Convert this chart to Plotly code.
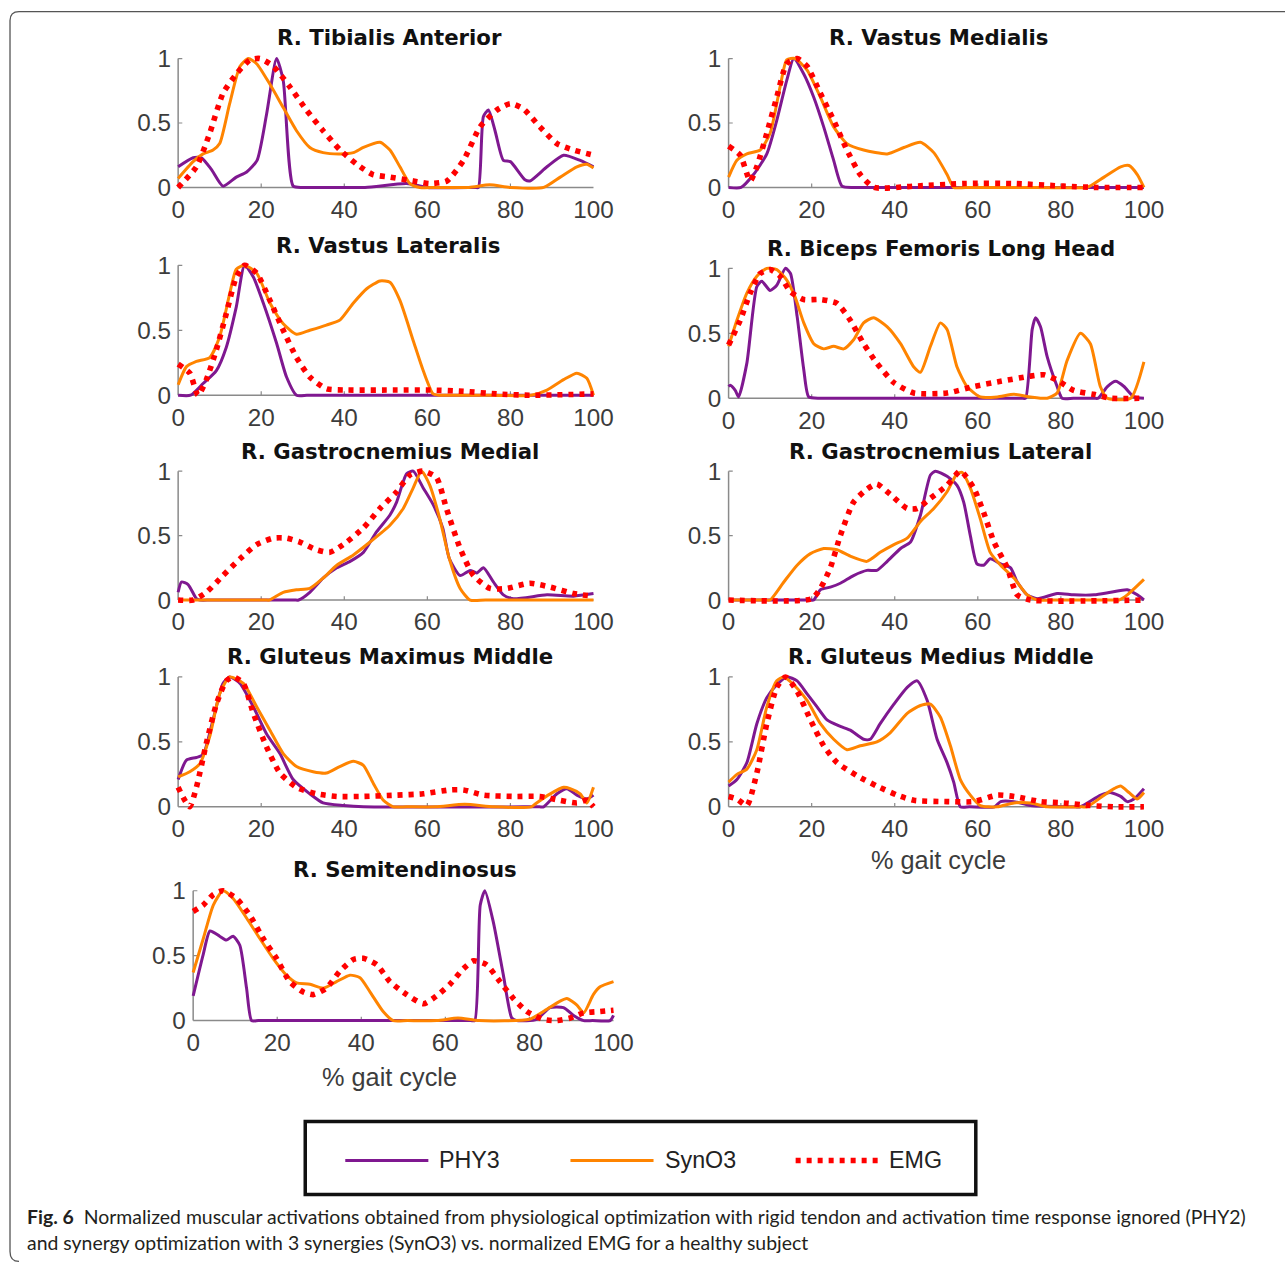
import plotly.graph_objects as go

# ---------------- DATA ----------------
TA_PHY3_X = [0, 3.6, 5.6, 8, 10.8, 14, 16.5, 19, 21.3, 23.7, 25.3, 27.7, 30, 33, 45, 55, 60, 71.5, 72.3, 73.5, 74.7, 76.3, 78.3, 80, 83.5, 84.7, 88.8, 92.8, 96.8, 100]
TA_PHY3_Y = [0.16, 0.23, 0.23, 0.14, 0.01, 0.08, 0.12, 0.21, 0.57, 1.0, 0.83, 0.01, 0, 0, 0, 0.03, 0, 0, 0, 0.55, 0.6, 0.44, 0.21, 0.2, 0.06, 0.05, 0.16, 0.25, 0.21, 0.16]
TA_SYN_X = [0, 3.6, 6, 8.4, 10, 12.4, 14.9, 16.9, 18.9, 22.1, 25.3, 28.5, 31.7, 34.9, 39, 42.2, 44.6, 48.6, 51, 53.4, 55.8, 58.2, 62, 70, 75, 80, 88, 92, 96, 98.4, 100]
TA_SYN_Y = [0.07, 0.2, 0.26, 0.29, 0.34, 0.65, 0.94, 1.0, 0.96, 0.8, 0.62, 0.44, 0.31, 0.27, 0.26, 0.27, 0.31, 0.35, 0.29, 0.16, 0.03, 0, 0, 0, 0.02, 0, 0, 0.08, 0.16, 0.18, 0.15]
TA_EMG_X = [0, 4.4, 7.6, 10.8, 14, 17.3, 19.7, 22.9, 26.9, 30.9, 34.9, 39, 43, 46.9, 51, 56.6, 60.6, 64.7, 68.7, 72.7, 76.7, 80, 83.1, 87.1, 91.2, 95.2, 100]
TA_EMG_Y = [0, 0.16, 0.42, 0.73, 0.88, 0.99, 1.0, 0.94, 0.78, 0.6, 0.44, 0.29, 0.18, 0.1, 0.08, 0.05, 0.03, 0.05, 0.21, 0.47, 0.6, 0.65, 0.61, 0.47, 0.34, 0.29, 0.25]

VM_PHY3_X = [0, 3, 6, 9.2, 11.6, 14, 15.7, 18.1, 20.5, 22.9, 25.3, 27.3, 30, 33, 100]
VM_PHY3_Y = [0, 0, 0.1, 0.26, 0.52, 0.83, 1.0, 0.88, 0.7, 0.47, 0.21, 0.01, 0, 0, 0]
VM_SYN_X = [0, 2, 4.4, 7.6, 10, 12.4, 14, 16, 18.9, 22.1, 25.3, 28.5, 32.5, 38.2, 42.2, 46.2, 49.4, 52.6, 54.2, 57, 70, 86, 87, 90.4, 94.4, 96.4, 98.4, 100]
VM_SYN_Y = [0.08, 0.21, 0.26, 0.29, 0.42, 0.78, 0.99, 1.0, 0.91, 0.7, 0.47, 0.34, 0.29, 0.26, 0.31, 0.35, 0.27, 0.1, 0, 0, 0, 0, 0.01, 0.08, 0.16, 0.17, 0.1, 0]
VM_EMG_X = [0, 2.8, 5.2, 6.8, 9.2, 11.6, 14, 16.5, 18.9, 22.1, 25.3, 28.5, 31.7, 35, 44.6, 56.6, 68.7, 80.7, 88.8, 100]
VM_EMG_Y = [0.32, 0.25, 0.05, 0.16, 0.42, 0.7, 0.96, 1.0, 0.94, 0.73, 0.52, 0.29, 0.1, 0, 0.01, 0.03, 0.03, 0.01, 0, 0]

VL_PHY3_X = [0, 3, 6, 9.2, 11.6, 14, 16, 18.1, 20.5, 23.7, 26.1, 28.5, 31, 34, 100]
VL_PHY3_Y = [0, 0, 0.09, 0.19, 0.37, 0.68, 1.0, 0.91, 0.71, 0.4, 0.14, 0, 0, 0, 0]
VL_SYN_X = [0, 2, 4.4, 7.6, 10, 12.4, 14, 16, 18.9, 22.1, 25.3, 28.5, 31.7, 35.7, 39, 42.2, 45.4, 48.6, 51, 53.4, 56.6, 59, 61.4, 63, 66, 75, 85, 88.8, 92.8, 96, 98.4, 100]
VL_SYN_Y = [0.08, 0.22, 0.26, 0.29, 0.45, 0.78, 0.97, 1.0, 0.94, 0.71, 0.55, 0.47, 0.5, 0.54, 0.58, 0.71, 0.82, 0.88, 0.87, 0.73, 0.42, 0.19, 0.01, 0, 0, 0, 0, 0.04, 0.12, 0.17, 0.13, 0]
VL_EMG_X = [0, 2.8, 4.8, 6.8, 9.2, 11.6, 14, 16, 18.9, 22.1, 25.3, 28.5, 31.7, 35.7, 40.6, 52.6, 60.6, 68.7, 76.7, 84.7, 100]
VL_EMG_Y = [0.24, 0.17, 0, 0.12, 0.35, 0.63, 0.91, 1.0, 0.94, 0.73, 0.5, 0.29, 0.14, 0.05, 0.04, 0.04, 0.04, 0.03, 0.01, 0, 0.01]

BF_PHY3_X = [0, 0.4, 1.6, 2.4, 4.4, 6.8, 8, 10, 11.6, 13.7, 14.9, 16.5, 18.1, 19.3, 22, 25, 70.5, 71.5, 73.1, 73.9, 75.1, 76.7, 79.1, 80.3, 83, 88, 89, 91.2, 93.2, 95.2, 97.6, 100]
BF_PHY3_Y = [0.09, 0.1, 0.06, 0.01, 0.27, 0.86, 0.9, 0.83, 0.87, 1.0, 0.96, 0.63, 0.22, 0.01, 0, 0, 0, 0, 0.53, 0.62, 0.55, 0.32, 0.09, 0, 0, 0, 0, 0.09, 0.13, 0.09, 0.01, 0]
BF_SYN_X = [0, 2, 4.4, 6.8, 9.2, 11.6, 14, 16, 18.1, 20.5, 22.9, 25.3, 27.7, 30.1, 32.5, 34.9, 38.2, 41.4, 44.6, 46.2, 48.6, 51, 52.6, 55, 57.4, 60.6, 64.7, 68.7, 72.7, 76.7, 79.1, 81.5, 84.7, 87.1, 89.5, 91.2, 96.8, 100]
BF_SYN_Y = [0.4, 0.6, 0.81, 0.94, 1.0, 0.99, 0.91, 0.78, 0.58, 0.42, 0.38, 0.4, 0.38, 0.45, 0.58, 0.62, 0.55, 0.42, 0.24, 0.2, 0.4, 0.58, 0.53, 0.24, 0.09, 0.01, 0.01, 0.03, 0.01, 0, 0.04, 0.29, 0.5, 0.42, 0.09, 0, 0, 0.28]
BF_EMG_X = [0, 2.8, 5.2, 7.6, 10, 12.4, 14.9, 18.1, 22.1, 26.1, 29.3, 32.5, 35.7, 39.8, 44.6, 52.6, 59, 65.5, 72.7, 75.9, 79.1, 83.1, 87.9, 92, 100]
BF_EMG_Y = [0.41, 0.6, 0.81, 0.96, 0.99, 0.94, 0.82, 0.76, 0.76, 0.73, 0.6, 0.42, 0.27, 0.12, 0.04, 0.04, 0.09, 0.13, 0.17, 0.18, 0.14, 0.06, 0.03, 0, 0]

GM_PHY3_X = [0, 0.8, 2.4, 4.4, 5.2, 8, 28, 29, 31.7, 34.9, 38.2, 41.4, 44.6, 47.8, 51, 52.6, 55, 56.6, 59, 61.4, 63.7, 65.3, 67.9, 70.3, 71.9, 73.5, 75.9, 78.3, 80.7, 88.8, 95.2, 100]
GM_PHY3_Y = [0.06, 0.14, 0.12, 0.01, 0, 0, 0, 0, 0.06, 0.17, 0.25, 0.3, 0.37, 0.53, 0.66, 0.76, 0.98, 1.0, 0.87, 0.74, 0.56, 0.32, 0.19, 0.23, 0.21, 0.25, 0.14, 0.04, 0.01, 0.04, 0.03, 0.05]
GM_SYN_X = [0, 21, 22, 25.3, 28.5, 31.7, 34.9, 38.2, 42.2, 46.2, 51, 54.2, 56.6, 58.6, 60.6, 63, 65.3, 67.9, 70.3, 74, 100]
GM_SYN_Y = [0, 0, 0, 0.06, 0.08, 0.09, 0.17, 0.27, 0.35, 0.45, 0.58, 0.71, 0.87, 1.0, 0.89, 0.63, 0.32, 0.09, 0, 0, 0]
GM_EMG_X = [0, 3.6, 6.8, 10.8, 14.9, 18.9, 22.9, 26.1, 29.3, 33.3, 36.5, 40.6, 44.6, 48.6, 52.6, 55.8, 59, 62.2, 64.6, 67.9, 71.1, 75.1, 79.1, 84.7, 89.6, 95.2, 100]
GM_EMG_Y = [0, 0, 0.06, 0.19, 0.32, 0.43, 0.48, 0.48, 0.45, 0.39, 0.37, 0.45, 0.56, 0.71, 0.84, 0.97, 1.0, 0.95, 0.71, 0.4, 0.19, 0.09, 0.09, 0.13, 0.1, 0.05, 0.03]

GL_PHY3_X = [0, 19.5, 20.5, 22.1, 24.5, 26.9, 30.1, 33.3, 35.7, 38.2, 41.4, 43.8, 46.2, 48.6, 49.8, 52.6, 55, 56.6, 58.2, 59.8, 61.4, 63, 65.5, 67.9, 69.5, 71.9, 74.3, 79.1, 83.1, 88, 92, 96, 98.4, 100]
GL_PHY3_Y = [0, 0, 0, 0.08, 0.1, 0.13, 0.19, 0.23, 0.23, 0.3, 0.4, 0.45, 0.66, 0.97, 1.0, 0.96, 0.89, 0.76, 0.5, 0.28, 0.27, 0.32, 0.28, 0.25, 0.14, 0.04, 0.01, 0.05, 0.04, 0.04, 0.06, 0.08, 0.04, 0]
GL_SYN_X = [0, 9, 10, 13.3, 16.5, 19.7, 22.9, 26.1, 29.3, 33.3, 36.5, 39.8, 43, 46.2, 49.4, 52.6, 55, 56.2, 58.2, 60.6, 63, 65.5, 68.7, 71.9, 74.3, 78, 93, 94, 96, 100]
GL_SYN_Y = [0, 0, 0, 0.14, 0.27, 0.36, 0.4, 0.39, 0.34, 0.3, 0.37, 0.43, 0.48, 0.61, 0.71, 0.84, 0.98, 0.99, 0.87, 0.63, 0.37, 0.27, 0.17, 0.04, 0, 0, 0, 0, 0.04, 0.16]
GL_EMG_X = [0, 20, 22.1, 24.5, 26.9, 30.1, 33.3, 35.7, 38.9, 43, 45.4, 48.6, 52.6, 55.8, 59, 61.4, 63.9, 67.1, 69.5, 72.7, 100]
GL_EMG_Y = [0, 0.01, 0.09, 0.25, 0.5, 0.76, 0.86, 0.9, 0.82, 0.71, 0.71, 0.79, 0.89, 1.0, 0.87, 0.68, 0.45, 0.25, 0.04, 0, 0]

GMAX_PHY3_X = [0, 2, 4.4, 6, 8.4, 10.8, 12.4, 14.9, 18.1, 21.3, 24.5, 27.7, 31.7, 34.9, 39.8, 44.6, 87, 88, 91.2, 93.6, 96, 98.4, 100]
GMAX_PHY3_Y = [0.21, 0.36, 0.38, 0.4, 0.67, 0.95, 1.0, 0.95, 0.77, 0.56, 0.41, 0.21, 0.1, 0.03, 0.01, 0, 0, 0, 0.1, 0.14, 0.09, 0.06, 0.09]
GMAX_SYN_X = [0, 2.8, 5.2, 7.6, 10, 12.4, 15.7, 18.9, 22.1, 25.3, 28.5, 32.5, 35.7, 38.9, 42.2, 44.6, 47, 49.4, 51.8, 55, 62, 69, 76, 85, 86.3, 89.6, 92.8, 94.4, 96.8, 98.4, 100]
GMAX_SYN_Y = [0.23, 0.27, 0.33, 0.54, 0.87, 1.0, 0.95, 0.77, 0.59, 0.41, 0.31, 0.27, 0.26, 0.31, 0.35, 0.32, 0.18, 0.05, 0, 0, 0, 0.02, 0, 0, 0.03, 0.1, 0.15, 0.14, 0.1, 0.03, 0.15]
GMAX_EMG_X = [0, 1.6, 2.8, 4.4, 6.8, 9.2, 11.6, 13.3, 15.7, 18.1, 21.3, 24.5, 28.5, 33.3, 38.2, 44.6, 52.6, 59, 65.5, 68.7, 73.5, 80.7, 87.1, 91.9, 96, 98.4, 100]
GMAX_EMG_Y = [0.15, 0.05, 0, 0.15, 0.49, 0.79, 0.97, 1.0, 0.95, 0.72, 0.46, 0.26, 0.15, 0.1, 0.08, 0.08, 0.09, 0.1, 0.13, 0.13, 0.09, 0.08, 0.08, 0.05, 0.03, 0.05, 0]

GMED_PHY3_X = [0, 2, 4.4, 6.8, 9.2, 11.6, 14, 16.5, 18.9, 21.3, 23.7, 26.9, 29.3, 32.5, 34.1, 36.5, 39.8, 43, 45.4, 47.8, 50.2, 52.6, 54.2, 55.8, 58, 64, 65.5, 68.7, 72.7, 83.5, 84.7, 89.6, 91.9, 94.4, 96, 97.6, 100]
GMED_PHY3_Y = [0.16, 0.21, 0.34, 0.64, 0.84, 0.94, 1.0, 0.97, 0.87, 0.77, 0.67, 0.62, 0.59, 0.52, 0.52, 0.64, 0.79, 0.92, 0.97, 0.82, 0.52, 0.34, 0.19, 0, 0, 0, 0.04, 0.04, 0.01, 0, 0, 0.09, 0.11, 0.08, 0.04, 0.06, 0.14]
GMED_SYN_X = [0, 2, 4.4, 6.8, 9.2, 11.6, 13.3, 15.7, 18.9, 22.1, 25.3, 28.5, 31.7, 35.7, 38.9, 43, 46.2, 48.6, 51, 53.4, 55.8, 58.2, 60.6, 64.7, 68.7, 72.7, 76.7, 85, 86.3, 90.4, 92.8, 94.4, 96.4, 98.4, 100]
GMED_SYN_Y = [0.19, 0.25, 0.29, 0.44, 0.77, 0.97, 1.0, 0.94, 0.82, 0.64, 0.52, 0.44, 0.47, 0.5, 0.57, 0.72, 0.78, 0.79, 0.69, 0.47, 0.21, 0.09, 0.01, 0, 0.03, 0.03, 0, 0, 0, 0.09, 0.14, 0.16, 0.11, 0.06, 0.11]
GMED_EMG_X = [0, 2, 4.4, 6.8, 9.2, 11.6, 13.7, 16.5, 19.7, 22.9, 26.1, 30.9, 35.7, 40.6, 44.6, 52.6, 59, 64.7, 68.7, 75.1, 80.7, 87.1, 92.8, 100]
GMED_EMG_Y = [0.08, 0.06, 0.01, 0.26, 0.64, 0.92, 1.0, 0.89, 0.67, 0.47, 0.34, 0.24, 0.16, 0.09, 0.05, 0.04, 0.04, 0.09, 0.08, 0.04, 0.03, 0.01, 0, 0]

ST_PHY3_X = [0, 2.4, 4, 6.3, 7.9, 9.5, 11.1, 12.7, 13.9, 15.5, 20, 66, 67, 68.3, 69.4, 71.4, 73.8, 75.8, 77, 81.7, 84.9, 88.1, 90.5, 92.9, 95, 99.2, 100]
ST_PHY3_Y = [0.19, 0.51, 0.69, 0.65, 0.62, 0.65, 0.58, 0.25, 0, 0, 0, 0, 0, 0.89, 1.0, 0.76, 0.35, 0.02, 0, 0.01, 0.1, 0.1, 0.04, 0, 0, 0, 0.04]
ST_SYN_X = [0, 2.4, 4.8, 7.1, 9.5, 12.7, 15.9, 19, 22.2, 24.6, 27.8, 31, 34.1, 37.3, 39.7, 42.1, 45.2, 47.6, 51, 58, 63, 68, 80, 83.3, 87.3, 88.9, 91.3, 92.9, 95.2, 96.8, 100]
ST_SYN_Y = [0.37, 0.63, 0.89, 1.0, 0.94, 0.79, 0.63, 0.48, 0.35, 0.29, 0.28, 0.25, 0.3, 0.35, 0.33, 0.22, 0.07, 0, 0, 0, 0.02, 0, 0.01, 0.07, 0.15, 0.17, 0.12, 0.06, 0.2, 0.26, 0.3]
ST_EMG_X = [0, 2.4, 4.8, 7.1, 10.3, 13.5, 16.7, 19.8, 23, 26.2, 28.6, 31.7, 34.9, 38.1, 40.5, 43.7, 46.8, 50.8, 54.8, 57.9, 61.1, 64.3, 66.7, 69.8, 73, 76.2, 79.4, 83.3, 86.5, 89.7, 92.9, 96.8, 100]
ST_EMG_Y = [0.84, 0.89, 0.97, 1.0, 0.94, 0.81, 0.63, 0.48, 0.3, 0.22, 0.2, 0.25, 0.38, 0.47, 0.48, 0.43, 0.3, 0.2, 0.13, 0.19, 0.28, 0.4, 0.46, 0.43, 0.3, 0.17, 0.07, 0.01, 0, 0.02, 0.06, 0.07, 0.08]

TITLES = ["R. Tibialis Anterior", "R. Vastus Medialis", "R. Vastus Lateralis",
          "R. Biceps Femoris Long Head", "R. Gastrocnemius Medial", "R. Gastrocnemius Lateral",
          "R. Gluteus Maximus Middle", "R. Gluteus Medius Middle", "R. Semitendinosus"]
SERIES_NAMES = ["PHY3", "SynO3", "EMG"]
X_TICKS = [0, 20, 40, 60, 80, 100]
Y_TICKS = [0, 0.5, 1]
Y_TICK_TEXT = ["0", "0.5", "1"]
X_LABEL = "% gait cycle"
CAPTION_1 = "<b>Fig. 6</b>  Normalized muscular activations obtained from physiological optimization with rigid tendon and activation time response ignored (PHY2)"
CAPTION_2 = "and synergy optimization with 3 synergies (SynO3) vs. normalized EMG for a healthy subject"

PANELS_DATA = [
    (TA_PHY3_X, TA_PHY3_Y, TA_SYN_X, TA_SYN_Y, TA_EMG_X, TA_EMG_Y),
    (VM_PHY3_X, VM_PHY3_Y, VM_SYN_X, VM_SYN_Y, VM_EMG_X, VM_EMG_Y),
    (VL_PHY3_X, VL_PHY3_Y, VL_SYN_X, VL_SYN_Y, VL_EMG_X, VL_EMG_Y),
    (BF_PHY3_X, BF_PHY3_Y, BF_SYN_X, BF_SYN_Y, BF_EMG_X, BF_EMG_Y),
    (GM_PHY3_X, GM_PHY3_Y, GM_SYN_X, GM_SYN_Y, GM_EMG_X, GM_EMG_Y),
    (GL_PHY3_X, GL_PHY3_Y, GL_SYN_X, GL_SYN_Y, GL_EMG_X, GL_EMG_Y),
    (GMAX_PHY3_X, GMAX_PHY3_Y, GMAX_SYN_X, GMAX_SYN_Y, GMAX_EMG_X, GMAX_EMG_Y),
    (GMED_PHY3_X, GMED_PHY3_Y, GMED_SYN_X, GMED_SYN_Y, GMED_EMG_X, GMED_EMG_Y),
    (ST_PHY3_X, ST_PHY3_Y, ST_SYN_X, ST_SYN_Y, ST_EMG_X, ST_EMG_Y),
]

# ---------------- LAYOUT (pixel geometry in the target picture) ----------------
W, H = 1285, 1263
# the viewer fits the page into a slightly smaller box; compensate for it
S, AX, AY = 0.9883, 0.0, 7.4
# (px of x=0, px of x=100, px of y=1, px of y=0)
GEOM = [
    (178, 593, 58, 187), (728, 1143, 58, 187),
    (178, 593, 265, 395), (728, 1143, 268, 398),
    (178, 593, 471, 600), (728, 1143, 471, 600),
    (178, 593, 677, 807), (728, 1143, 677, 807),
    (193, 613, 891, 1021),
]
TITLE_POS = [(389, 37), (938, 37), (388, 245), (940, 248), (390, 451), (940, 451),
             (390, 657), (940, 657), (405, 870)]
XLABEL_POS = [(938, 860), (389, 1077)]

PURPLE = "#7F1890"
ORANGE = "#FF8400"
RED = "#FF0000"
AXIS_GRAY = "#8a8a8a"
TICK_COLOR = "#3c3c3c"
XPAD, YPAD = 1.5, 0.04


def fs(v):
    return round(v / S, 2)


TICK_FONT = dict(family="Liberation Sans, Arial", size=fs(24), color=TICK_COLOR)


def fx(px):
    return ((px - AX) / S) / W


def fy(py):
    return 1 - ((py - AY) / S) / H


fig = go.Figure()
shapes = []
annotations = []

for i, (g, data) in enumerate(zip(GEOM, PANELS_DATA)):
    x0, x1, yt, yb = g
    sx = (x1 - x0) / 100.0
    sy = (yb - yt) / 1.0
    dom_x = [fx(x0 - XPAD * sx), fx(x1 + XPAD * sx)]
    dom_y = [fy(yb + YPAD * sy), fy(yt - YPAD * sy)]
    n = "" if i == 0 else str(i + 1)
    xa, ya = "x" + n, "y" + n
    fig.layout["xaxis" + n] = dict(
        domain=dom_x, range=[-XPAD, 100 + XPAD], anchor=ya,
        tickvals=X_TICKS, showgrid=False, zeroline=False, showline=False, ticks="",
        tickfont=TICK_FONT, fixedrange=True)
    fig.layout["yaxis" + n] = dict(
        domain=dom_y, range=[-YPAD, 1 + YPAD], anchor=xa,
        tickvals=Y_TICKS, ticktext=Y_TICK_TEXT, showgrid=False, zeroline=False,
        showline=False, ticks="", tickfont=TICK_FONT, fixedrange=True)
    # axis lines at the data origin, with small inward tick marks
    shapes.append(dict(type="line", xref=xa, yref=ya, x0=0, x1=100, y0=0, y1=0,
                       line=dict(color=AXIS_GRAY, width=1.5), layer="below"))
    shapes.append(dict(type="line", xref=xa, yref=ya, x0=0, x1=0, y0=0, y1=1,
                       line=dict(color=AXIS_GRAY, width=1.5), layer="below"))
    for tv in X_TICKS[1:-1]:
        shapes.append(dict(type="line", xref=xa, yref=ya, x0=tv, x1=tv, y0=0, y1=0.03,
                           line=dict(color=AXIS_GRAY, width=1.2), layer="below"))
    for tv in Y_TICKS[1:]:
        shapes.append(dict(type="line", xref=xa, yref=ya, x0=0, x1=1, y0=tv, y1=tv,
                           line=dict(color=AXIS_GRAY, width=1.2), layer="below"))
    px_, py_, sx_, sy_, ex_, ey_ = data
    fig.add_trace(go.Scatter(x=px_, y=py_, mode="lines", name=SERIES_NAMES[0],
                             line=dict(color=PURPLE, width=3, shape="spline", smoothing=0.6),
                             xaxis=xa, yaxis=ya, showlegend=False, hoverinfo="skip"))
    fig.add_trace(go.Scatter(x=sx_, y=sy_, mode="lines", name=SERIES_NAMES[1],
                             line=dict(color=ORANGE, width=3, shape="spline", smoothing=0.6),
                             xaxis=xa, yaxis=ya, showlegend=False, hoverinfo="skip"))
    fig.add_trace(go.Scatter(x=ex_, y=ey_, mode="lines", name=SERIES_NAMES[2],
                             line=dict(color=RED, width=5.6, dash="5px,6px", shape="spline", smoothing=0.6),
                             xaxis=xa, yaxis=ya, showlegend=False, hoverinfo="skip"))
    tx, ty = TITLE_POS[i]
    annotations.append(dict(text="<b>" + TITLES[i] + "</b>", x=fx(tx), y=fy(ty), xref="paper", yref="paper",
                            xanchor="center", yanchor="middle", showarrow=False,
                            font=dict(family="DejaVu Sans", size=fs(21), color="#111111")))

for (lx, ly) in XLABEL_POS:
    annotations.append(dict(text=X_LABEL, x=fx(lx), y=fy(ly), xref="paper", yref="paper",
                            xanchor="center", yanchor="middle", showarrow=False,
                            font=dict(family="Liberation Sans, Arial", size=fs(25), color=TICK_COLOR)))

# legend box
shapes.append(dict(type="rect", xref="paper", yref="paper", x0=fx(305), x1=fx(975), y0=fy(1195), y1=fy(1122),
                   line=dict(color="#111111", width=3.5), fillcolor="white"))
LEG = [(345, 428, 437, PURPLE, "solid", 3), (570, 653, 662, ORANGE, "solid", 3), (795, 878, 886, RED, "5px,6px", 5.6)]
for (a, b, t, c, d, w), name in zip(LEG, SERIES_NAMES):
    shapes.append(dict(type="line", xref="paper", yref="paper", x0=fx(a), x1=fx(b), y0=fy(1161), y1=fy(1161),
                       line=dict(color=c, width=w, dash=d)))
    annotations.append(dict(text=name, x=fx(t), y=fy(1161), xref="paper", yref="paper",
                            xanchor="left", yanchor="middle", showarrow=False,
                            font=dict(family="Liberation Sans, Arial", size=fs(23), color="#222222")))

# caption
annotations.append(dict(text=CAPTION_1, x=fx(25), y=fy(1217), xref="paper", yref="paper",
                        xanchor="left", yanchor="middle", showarrow=False,
                        font=dict(family="Lato, Noto Sans", size=fs(19.2), color="#231f20")))
annotations.append(dict(text=CAPTION_2, x=fx(25), y=fy(1243), xref="paper", yref="paper",
                        xanchor="left", yanchor="middle", showarrow=False,
                        font=dict(family="Lato, Noto Sans", size=fs(19.2), color="#231f20")))

# outer frame (rounded top-left / bottom-left corners)
shapes.append(dict(type="path", xref="paper", yref="paper",
                   path="M {a},{b} L {c},{b} Q {d},{b} {d},{e} L {d},{f} Q {d},{g} {h},{g}".format(
                       a=fx(1300), b=fy(11), c=fx(19), d=fx(10), e=fy(20), f=fy(1252), g=fy(1262), h=fx(19)),
                   line=dict(color="#555555", width=1.3)))

fig.update_layout(width=W, height=H, autosize=False, margin=dict(l=0, r=0, t=0, b=0),
                  paper_bgcolor="white", plot_bgcolor="rgba(0,0,0,0)",
                  shapes=shapes, annotations=annotations, showlegend=False)

POST = ("document.documentElement.style.margin='0';document.documentElement.style.overflow='hidden';"
        "document.body.style.margin='0';document.body.style.padding='0';document.body.style.overflow='hidden';"
        "var d=document.getElementById('{plot_id}');d.style.position='absolute';"
        "d.style.left='0px';d.style.top='0px';")
fig.write_html("out.html", post_script=POST,
               config={"responsive": False, "displayModeBar": False, "staticPlot": True})
